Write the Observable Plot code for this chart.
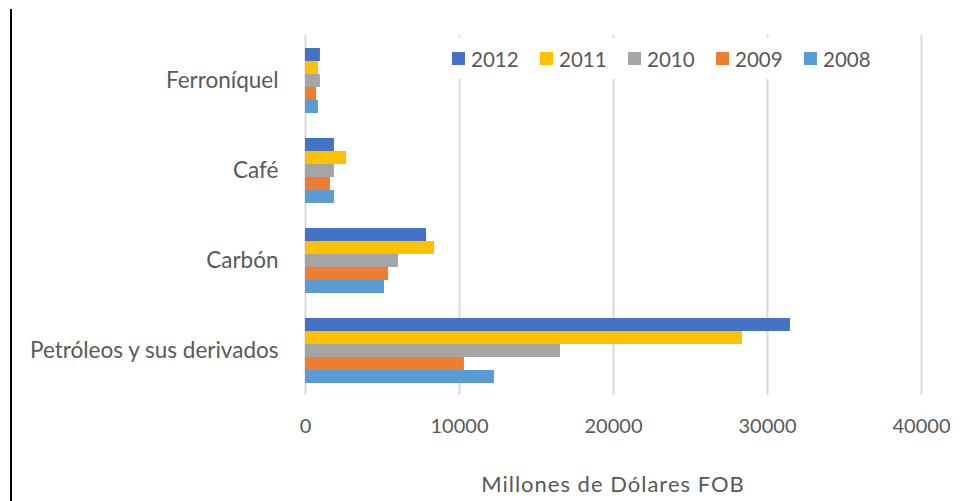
<!DOCTYPE html>
<html><head><meta charset="utf-8">
<script src="https://cdn.jsdelivr.net/npm/d3@7"></script>
<script src="https://cdn.jsdelivr.net/npm/@observablehq/plot@0.6"></script>
<style>
body{margin:0;background:#fff;font-family:Lato, sans-serif;}
#wrap{position:relative;width:970px;height:501px;overflow:hidden;background:#fff;}
#wrap svg{position:absolute;left:0;top:0;}
#border{position:absolute;left:10px;top:9px;width:2px;height:492px;background:#000;}
#legend{position:absolute;left:445px;top:38px;width:440px;height:41px;background:#fff;display:flex;align-items:center;padding-left:7px;box-sizing:border-box;}
.item{width:88px;display:flex;align-items:center;font-size:20.5px;color:#595959;flex:none;}
.sw{width:13px;height:13px;margin-right:6px;flex:none;}
#xtitle{position:absolute;left:305px;width:616px;top:471px;line-height:26px;text-align:center;font-size:22px;letter-spacing:1px;color:#595959;}
</style></head>
<body><div id="wrap"><div id="border"></div></div>
<script>
const categories = ["Ferroníquel", "Café", "Carbón", "Petróleos y sus derivados"];
const years = ["2012", "2011", "2010", "2009", "2008"];
const colors = ["#4472C4", "#FFC000", "#A5A5A5", "#ED7D31", "#5B9BD5"];
const v2012 = [970, 1880, 7860, 31490];
const v2011 = [850, 2660, 8380, 28380];
const v2010 = [970, 1880, 6040, 16560];
const v2009 = [720, 1620, 5390, 10320];
const v2008 = [840, 1880, 5130, 12270];
const xTicks = [0, 10000, 20000, 30000, 40000];
const xTitle = "Millones de Dólares FOB";

const series = [v2012, v2011, v2010, v2009, v2008];
const rows = [];
categories.forEach((c, i) => years.forEach((y, j) => rows.push({category: c, year: y, value: series[j][i]})));

const chart = Plot.plot({
  width: 970,
  height: 501,
  marginLeft: 305,
  marginRight: 49,
  marginTop: 35,
  marginBottom: 106,
  style: {fontFamily: "Lato, sans-serif", fontSize: "20px", color: "#595959", background: "transparent", overflow: "visible"},
  x: {domain: [0, 40000], ticks: xTicks, tickFormat: d => String(d), tickSize: 0, tickPadding: 35, label: null},
  fy: {domain: categories, paddingInner: 24 / 90, paddingOuter: 12 / 90, axis: null, label: null},
  y: {domain: years, padding: 0, axis: null},
  color: {domain: years, range: colors},
  marks: [
    Plot.ruleX(xTicks, {stroke: "#d9d9d9", strokeWidth: 2, insetTop: -12, insetBottom: -12}),
    Plot.barX(rows, {x: "value", y: "year", fy: "category", fill: "year"}),
    Plot.axisFy({anchor: "left", tickSize: 0, tickPadding: 27, fontSize: 22.5, label: null})
  ]
});

const wrap = document.getElementById("wrap");
wrap.appendChild(chart);

const legend = document.createElement("div");
legend.id = "legend";
years.forEach((y, j) => {
  const it = document.createElement("div");
  it.className = "item";
  const sw = document.createElement("div");
  sw.className = "sw";
  sw.style.background = colors[j];
  const t = document.createElement("span");
  t.textContent = y;
  it.appendChild(sw);
  it.appendChild(t);
  legend.appendChild(it);
});
wrap.appendChild(legend);

const xt = document.createElement("div");
xt.id = "xtitle";
xt.textContent = xTitle;
wrap.appendChild(xt);
</script>
</body></html>
